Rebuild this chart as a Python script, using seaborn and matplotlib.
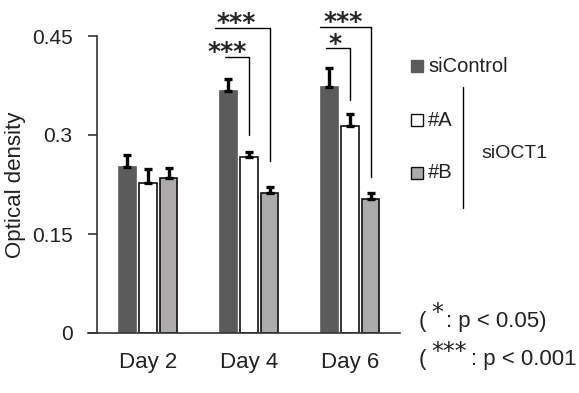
import numpy as np
import pandas as pd
import seaborn as sns
import matplotlib.pyplot as plt
from matplotlib.patches import Rectangle
from matplotlib.lines import Line2D

days = ["Day 2", "Day 4", "Day 6"]
groups = ["siControl", "#A", "#B"]
od_control = [0.252, 0.367, 0.373]
od_a = [0.227, 0.267, 0.314]
od_b = [0.235, 0.212, 0.203]
err_control = [0.018, 0.018, 0.028]
err_a = [0.021, 0.007, 0.018]
err_b = [0.015, 0.009, 0.009]

# significance brackets: day, compared group, label, label x, bracket height, drop-to
sig_day = [1, 1, 2, 2]
sig_group = [1, 2, 2, 1]
sig_label = ["***", "***", "***", "*"]
sig_label_x = [0.782, 0.874, 1.931, 1.848]
sig_height = [0.418, 0.462, 0.464, 0.432]
sig_drop = [0.300, 0.261, 0.236, 0.353]

colors = {"siControl": "#5b5b5b", "#A": "#ffffff", "#B": "#acaaaa"}

df = pd.DataFrame({
    "day": np.repeat(days, 3),
    "group": groups * 3,
    "od": [v for trio in zip(od_control, od_a, od_b) for v in trio],
})
errs = {"siControl": err_control, "#A": err_a, "#B": err_b}

sns.set_theme(style="white")
plt.rcParams["font.family"] = ["Liberation Sans", "DejaVu Sans"]

fig = plt.figure(figsize=(5.79, 3.93), dpi=100)
ax = fig.add_axes([88 / 579, 1 - 333 / 393, 312 / 579, 297 / 393])

sns.barplot(data=df, x="day", y="od", hue="group", order=days, hue_order=groups,
            palette=colors, errorbar=None, width=0.62, gap=0.18, linewidth=1.2,
            edgecolor="#111111", legend=False, ax=ax)

# seaborn draws bars hue level by hue level
centres = {}
bars = iter(ax.patches)
for g in groups:
    for d, day in enumerate(days):
        patch = next(bars)
        if g == "siControl":
            patch.set_edgecolor(colors[g])
        x = patch.get_x() + patch.get_width() / 2
        centres[(d, g)] = x
        ax.errorbar(x, patch.get_height(), yerr=[[0], [errs[g][d]]], fmt="none",
                    ecolor="black", elinewidth=2.4, capsize=3, capthick=2.4)

for d, gi, label, lx, h, drop in zip(sig_day, sig_group, sig_label, sig_label_x, sig_height, sig_drop):
    x0 = centres[(d, "siControl")] - (0.13 if gi == 2 else 0.03)
    if d == 2 and gi == 2:
        x0 = centres[(d, "siControl")] - 0.094
    x1 = centres[(d, groups[gi])]
    ax.plot([x0, x1, x1], [h, h, drop], color="black", lw=1, clip_on=False)
    offset = 0.003 if label == "***" else 0.004
    ax.text(lx, h - offset, label, ha="center", va="baseline", fontsize=18,
            family="DejaVu Sans", fontweight="bold", clip_on=False)

ax.set_xlim(-0.594, 2.495)
ax.set_ylim(0, 0.45)
ax.set_yticks([0, 0.15, 0.3, 0.45])
ax.set_yticklabels(["0", "0.15", "0.3", "0.45"])
ax.tick_params(axis="x", length=0, pad=14, labelsize=16, labelcolor="#222222")
ax.tick_params(axis="y", direction="out", length=6.5, width=1.2, color="#333333", left=True,
               pad=11, labelsize=15, labelcolor="#222222")
ax.set_xlabel("")
ax.set_ylabel("Optical density", fontsize=16, labelpad=4, color="#222222")
for side in ["top", "right"]:
    ax.spines[side].set_visible(False)
for side in ["left", "bottom"]:
    ax.spines[side].set_color("#333333")
    ax.spines[side].set_linewidth(1.2)
ax.spines["left"].set_position(("axes", 9 / 312))

# legend drawn by hand
for lbl, ypix in zip(groups, [66, 120, 173]):
    fig.patches.append(Rectangle((411 / 579, 1 - (ypix + 6) / 393), 12 / 579, 12 / 393,
                                 transform=fig.transFigure, facecolor=colors[lbl],
                                 edgecolor=colors[lbl] if lbl == "siControl" else "#111111",
                                 linewidth=1))
    fig.text(428 / 579, 1 - ypix / 393, lbl, fontsize=14.5, va="center", ha="left",
             color="#222222")
fig.add_artist(Line2D([463 / 579, 463 / 579], [1 - 87 / 393, 1 - 208 / 393],
                      transform=fig.transFigure, color="black", lw=1))
fig.text(481 / 579, 1 - 153 / 393, "siOCT1", fontsize=14, va="center", ha="left",
         color="#222222")

# footnotes with raised asterisks
for ypix, stars, rest_x, rest in [(321, "*", 446, ": p < 0.05)"), (360, "***", 471, ": p < 0.001")]:
    fig.text(419 / 579, 1 - ypix / 393, "(", fontsize=16, va="center", ha="left", color="#222222")
    fig.text(431 / 579, 1 - (ypix - 8) / 393, stars, fontsize=17, va="center", ha="left",
             family="DejaVu Sans", color="#222222")
    fig.text(rest_x / 579, 1 - ypix / 393, rest, fontsize=16, va="center", ha="left",
             color="#222222")

fig.savefig("out.png", dpi=100)
